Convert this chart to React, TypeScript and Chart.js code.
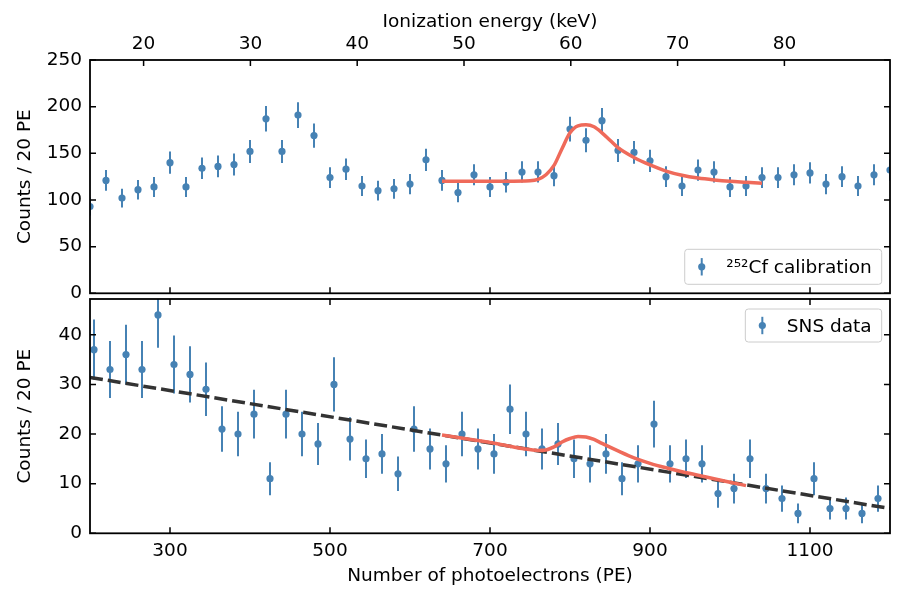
import React, { useEffect, useRef } from "react";
import { Chart, registerables } from "chart.js";
Chart.register(...registerables);

// ---------------- data ----------------
const calBinsPE = [200, 220, 240, 260, 280, 300, 320, 340, 360, 380, 400, 420, 440, 460, 480, 500, 520, 540, 560, 580, 600, 620, 640, 660, 680, 700, 720, 740, 760, 780, 800, 820, 840, 860, 880, 900, 920, 940, 960, 980, 1000, 1020, 1040, 1060, 1080, 1100, 1120, 1140, 1160, 1180, 1200];
const calCounts = [93, 121, 102, 111, 114, 140, 114, 134, 136, 138, 152, 187, 152, 191, 169, 124, 133, 115, 110, 112, 117, 143, 121, 108, 127, 114, 119, 130, 130, 126, 176, 164, 185, 153, 151, 142, 125, 115, 132, 130, 114, 115, 124, 124, 127, 129, 117, 125, 115, 127, 132];

const calFitPE = [640, 680, 720, 750, 760, 770, 780, 790, 800, 810, 820, 830, 840, 850, 860, 880, 900, 920, 940, 960, 980, 1000, 1020, 1040];
const calFitCounts = [120, 120, 120, 120.5, 122, 127, 137, 155, 172, 179.5, 180.5, 178.5, 172, 164, 156, 145.5, 137.5, 131, 126.5, 123.5, 121.5, 120, 119, 118];

const snsBinsPE = [205, 225, 245, 265, 285, 305, 325, 345, 365, 385, 405, 425, 445, 465, 485, 505, 525, 545, 565, 585, 605, 625, 645, 665, 685, 705, 725, 745, 765, 785, 805, 825, 845, 865, 885, 905, 925, 945, 965, 985, 1005, 1025, 1045, 1065, 1085, 1105, 1125, 1145, 1165, 1185];
const snsCounts = [37, 33, 36, 33, 44, 34, 32, 29, 21, 20, 24, 11, 24, 20, 18, 30, 19, 15, 16, 12, 21, 17, 14, 20, 17, 16, 25, 20, 17, 18, 15, 14, 16, 11, 14, 22, 14, 15, 14, 8, 9, 15, 9, 7, 4, 11, 5, 5, 4, 7];

const snsFitPE = [640, 660, 680, 700, 720, 740, 760, 770, 780, 790, 800, 810, 820, 830, 840, 860, 880, 900, 920, 940, 960, 980, 1000, 1020];
const snsFitCounts = [19.8, 19.3, 18.8, 18.3, 17.7, 17.1, 16.7, 16.8, 17.4, 18.4, 19.1, 19.5, 19.4, 18.9, 18.1, 16.6, 15.2, 14.1, 13.2, 12.4, 11.7, 11.0, 10.3, 9.6];

const snsBgPE = [200, 1200];
const snsBgCounts = [31.4, 5.0];

const peTicks = [300, 500, 700, 900, 1100];
const keVTicks = [20, 30, 40, 50, 60, 70, 80];
const calYTicks = [0, 50, 100, 150, 200, 250];
const snsYTicks = [0, 10, 20, 30, 40];
const PE_PER_KEV = 13.35;

// Poisson uncertainties of the counts
const calErrors = calCounts.map((c) => Math.sqrt(c));
const snsErrors = snsCounts.map((c) => Math.sqrt(c));

// ---------------- style ----------------
const FONT = "'DejaVu Sans', sans-serif";
const FS = 18.5;
const BLUE = "#4682b4";
const RED = "#ef6a5a";
const DARK = "#333333";

type FrameCfg = {
  topTicks: "pe" | "kev";
  legendText: string;
  legendCorner: "lower right" | "upper right";
  legendH: number;
};

function makeFramePlugin(cfg: FrameCfg) {
  return {
    id: "frame",
    beforeDatasetsDraw(chart: any) {
      const ctx = chart.ctx;
      const a = chart.chartArea;
      const xs = chart.scales.x;
      const ys = chart.scales.y;
      ctx.save();
      ctx.beginPath();
      ctx.rect(a.left, a.top, a.right - a.left, a.bottom - a.top);
      ctx.clip();
      chart.data.datasets.forEach((ds: any) => {
        const errs = ds.errors;
        if (!errs) return;
        ctx.strokeStyle = ds.backgroundColor;
        ctx.lineWidth = 2;
        ds.data.forEach((p: any, i: number) => {
          const px = xs.getPixelForValue(p.x);
          ctx.beginPath();
          ctx.moveTo(px, ys.getPixelForValue(p.y - errs[i]));
          ctx.lineTo(px, ys.getPixelForValue(p.y + errs[i]));
          ctx.stroke();
        });
      });
      ctx.restore();
    },
    afterDraw(chart: any) {
      const ctx = chart.ctx;
      const a = chart.chartArea;
      const xs = chart.scales.x;
      const ys = chart.scales.y;
      const tl = 6;
      ctx.save();
      // ticks
      ctx.strokeStyle = "#000";
      ctx.lineWidth = 1.5;
      ctx.beginPath();
      peTicks.forEach((v) => {
        const px = xs.getPixelForValue(v);
        ctx.moveTo(px, a.bottom);
        ctx.lineTo(px, a.bottom - tl);
        if (cfg.topTicks === "pe") {
          ctx.moveTo(px, a.top);
          ctx.lineTo(px, a.top + tl);
        }
      });
      if (cfg.topTicks === "kev") {
        const xt = chart.scales.xTop;
        keVTicks.forEach((v) => {
          const px = xt.getPixelForValue(v);
          ctx.moveTo(px, a.top);
          ctx.lineTo(px, a.top + tl);
        });
      }
      const yt = ys.ticks.map((t: any) => t.value);
      yt.forEach((v: number) => {
        const py = ys.getPixelForValue(v);
        ctx.moveTo(a.left, py);
        ctx.lineTo(a.left + tl, py);
        ctx.moveTo(a.right, py);
        ctx.lineTo(a.right - tl, py);
      });
      ctx.stroke();
      // spines
      ctx.lineWidth = 1.8;
      ctx.strokeRect(a.left, a.top, a.right - a.left, a.bottom - a.top);

      // legend
      ctx.font = `${FS}px ${FONT}`;
      const tw = ctx.measureText(cfg.legendText).width;
      const boxRight = a.right - 8.3;
      const boxH = cfg.legendH;
      const boxTop = cfg.legendCorner === "lower right" ? a.bottom - 9 - boxH : a.top + 10;
      const textRight = boxRight - 10;
      const textLeft = textRight - tw;
      const gx = textLeft - 24.5;
      const boxLeft = gx - 17;
      const cy = boxTop + boxH / 2;
      ctx.beginPath();
      (ctx as any).roundRect(boxLeft, boxTop, boxRight - boxLeft, boxH, 3);
      ctx.fillStyle = "rgba(255,255,255,0.8)";
      ctx.fill();
      ctx.strokeStyle = "#cccccc";
      ctx.lineWidth = 1;
      ctx.stroke();
      ctx.strokeStyle = BLUE;
      ctx.lineWidth = 2;
      ctx.beginPath();
      ctx.moveTo(gx, cy - 8.7);
      ctx.lineTo(gx, cy + 8.7);
      ctx.stroke();
      ctx.fillStyle = BLUE;
      ctx.beginPath();
      ctx.arc(gx, cy, 3.6, 0, Math.PI * 2);
      ctx.fill();
      ctx.fillStyle = "#000";
      ctx.textBaseline = "alphabetic";
      ctx.textAlign = "left";
      ctx.fillText(cfg.legendText, textLeft, cy + 6);
      ctx.restore();
    },
  };
}

const tickFont = { family: FONT, size: FS };
const noGrid = { display: false, drawTicks: false };

function pts(xs: number[], ys: number[]) {
  return xs.map((x, i) => ({ x, y: ys[i] }));
}

function fixSize(prop: "width" | "height", size: number) {
  return (s: any) => {
    s[prop] = size;
    s.paddingTop = 0;
    s.paddingBottom = 0;
    s.paddingLeft = 0;
    s.paddingRight = 0;
  };
}

export default function App() {
  const topRef = useRef<HTMLCanvasElement>(null);
  const botRef = useRef<HTMLCanvasElement>(null);

  useEffect(() => {
    Chart.defaults.color = "#000";
    Chart.defaults.font.family = FONT;
    const top = new Chart(topRef.current as HTMLCanvasElement, {
      type: "scatter",
      data: {
        datasets: [
          {
            label: "fit",
            data: pts(calFitPE, calFitCounts),
            showLine: true,
            borderColor: RED,
            backgroundColor: RED,
            borderWidth: 3.5,
            pointRadius: 0,
            cubicInterpolationMode: "monotone",
            order: 0,
            clip: 0,
          } as any,
          {
            label: "²⁵²Cf calibration",
            data: pts(calBinsPE, calCounts),
            errors: calErrors,
            backgroundColor: BLUE,
            borderColor: BLUE,
            borderWidth: 0,
            pointRadius: 3.6,
            order: 1,
            clip: 0,
          } as any,
        ],
      },
      options: {
        animation: false,
        responsive: false,
        devicePixelRatio: 1,
        layout: { padding: { left: 0, right: 10, top: 0, bottom: 0 } },
        plugins: { legend: { display: false }, tooltip: { enabled: false } },
        scales: {
          x: {
            type: "linear",
            position: "bottom",
            min: 200,
            max: 1200,
            grid: noGrid,
            border: { display: false },
            ticks: { display: false },
            afterFit: fixSize("height", 6.7),
          },
          xTop: {
            type: "linear",
            axis: "x",
            position: "top",
            min: 200 / PE_PER_KEV,
            max: 1200 / PE_PER_KEV,
            grid: noGrid,
            border: { display: false },
            ticks: { padding: 4.5, font: tickFont, autoSkip: false, maxRotation: 0, callback: (v: any) => String(v) },
            afterBuildTicks: (s: any) => {
              s.ticks = keVTicks.map((v) => ({ value: v }));
            },
            afterFit: fixSize("height", 60),
            title: { display: true, text: "Ionization energy (keV)", font: tickFont, padding: { top: 11, bottom: 0 } },
          },
          y: {
            type: "linear",
            position: "left",
            min: 0,
            max: 250,
            grid: noGrid,
            border: { display: false },
            ticks: { padding: 8, font: tickFont, autoSkip: false, callback: (v: any) => String(v) },
            afterBuildTicks: (s: any) => {
              s.ticks = calYTicks.map((v) => ({ value: v }));
            },
            afterFit: fixSize("width", 90),
            title: { display: true, text: "Counts / 20 PE", font: tickFont, padding: { top: 14, bottom: 0 } },
          },
        } as any,
      },
      plugins: [makeFramePlugin({ topTicks: "kev", legendText: "²⁵²Cf calibration", legendCorner: "lower right", legendH: 35 })],
    });

    const bot = new Chart(botRef.current as HTMLCanvasElement, {
      type: "scatter",
      data: {
        datasets: [
          {
            label: "fit",
            data: pts(snsFitPE, snsFitCounts),
            showLine: true,
            borderColor: RED,
            backgroundColor: RED,
            borderWidth: 3.5,
            pointRadius: 0,
            cubicInterpolationMode: "monotone",
            order: 0,
            clip: 0,
          } as any,
          {
            label: "background",
            data: pts(snsBgPE, snsBgCounts),
            showLine: true,
            borderColor: DARK,
            backgroundColor: DARK,
            borderWidth: 3.5,
            borderDash: [13, 5],
            pointRadius: 0,
            order: 1,
            clip: 0,
          } as any,
          {
            label: "SNS data",
            data: pts(snsBinsPE, snsCounts),
            errors: snsErrors,
            backgroundColor: BLUE,
            borderColor: BLUE,
            borderWidth: 0,
            pointRadius: 3.6,
            order: 2,
            clip: 0,
          } as any,
        ],
      },
      options: {
        animation: false,
        responsive: false,
        devicePixelRatio: 1,
        layout: { padding: { left: 0, right: 10, top: 9, bottom: 0 } },
        plugins: { legend: { display: false }, tooltip: { enabled: false } },
        scales: {
          x: {
            type: "linear",
            position: "bottom",
            min: 200,
            max: 1200,
            grid: noGrid,
            border: { display: false },
            ticks: { padding: 7, font: tickFont, autoSkip: false, maxRotation: 0, callback: (v: any) => String(v) },
            afterBuildTicks: (s: any) => {
              s.ticks = peTicks.map((v) => ({ value: v }));
            },
            afterFit: fixSize("height", 66.7),
            title: { display: true, text: "Number of photoelectrons (PE)", font: tickFont, padding: { top: 0, bottom: 12.4 } },
          },
          y: {
            type: "linear",
            position: "left",
            min: 0,
            max: 47.2,
            grid: noGrid,
            border: { display: false },
            ticks: { padding: 8, font: tickFont, autoSkip: false, callback: (v: any) => String(v) },
            afterBuildTicks: (s: any) => {
              s.ticks = snsYTicks.map((v) => ({ value: v }));
            },
            afterFit: fixSize("width", 90),
            title: { display: true, text: "Counts / 20 PE", font: tickFont, padding: { top: 14, bottom: 0 } },
          },
        } as any,
      },
      plugins: [makeFramePlugin({ topTicks: "pe", legendText: "SNS data", legendCorner: "upper right", legendH: 33 })],
    });

    return () => {
      top.destroy();
      bot.destroy();
    };
  }, []);

  return (
    <div style={{ position: "fixed", left: 0, top: 0, width: 900, height: 600, background: "#fff" }}>
      <canvas ref={topRef} width={900} height={300} style={{ position: "absolute", left: 0, top: 0, width: 900, height: 300 }} />
      <canvas ref={botRef} width={900} height={310} style={{ position: "absolute", left: 0, top: 290, width: 900, height: 310 }} />
    </div>
  );
}
